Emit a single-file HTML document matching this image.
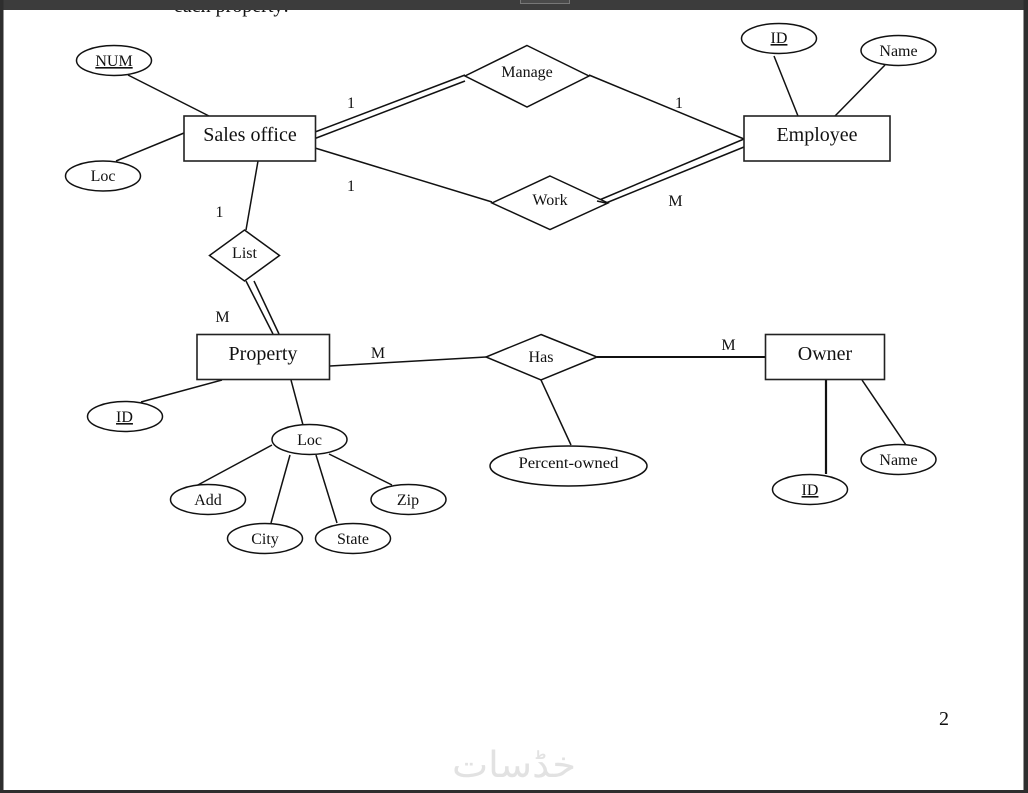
<!DOCTYPE html>
<html><head><meta charset="utf-8">
<style>
html,body{margin:0;padding:0;background:#fff;width:1028px;height:793px;overflow:hidden}
svg{display:block}
text{font-family:"Liberation Serif",serif;fill:#111;text-anchor:middle}
.s{stroke:#111;stroke-width:1.5;fill:none}
.e{stroke:#111;stroke-width:1.5;fill:#fff}
.b{stroke:#222;stroke-width:1.6;fill:#fff}
</style></head><body>
<svg width="1028" height="793" viewBox="0 0 1028 793" xmlns="http://www.w3.org/2000/svg">
<rect width="1028" height="793" fill="#fff"/>
<text x="231.500" y="12" font-size="20">each property:</text>
<rect x="0" y="0" width="1028" height="10" fill="#3c3c3c"/>
<rect x="0" y="0" width="3.5" height="793" fill="#2e2e2e"/>
<rect x="1023.500" y="0" width="4.500" height="793" fill="#2e2e2e"/>
<rect x="0" y="790" width="1028" height="3" fill="#2e2e2e"/>
<rect x="520.500" y="-3" width="49" height="6.500" fill="#4a4a4a" stroke="#777"/>

<g class="s">
<path d="M128 75L209 116"/>
<path d="M116 161L184 133"/>
<path d="M258 161L246 230"/>
<path d="M315 132L465 75"/>
<path d="M315 138.500L465 81"/>
<path d="M315 148L492 202"/>
<path d="M589 75L744 139"/>
<path d="M597 201L744 139"/>
<path d="M606 203L744 147"/>
<path d="M246 281L273 334"/>
<path d="M254 281L279 334"/>
<path d="M330 366L486 357"/>
<path d="M222 380L141 402"/>
<path d="M291 380L303 425"/>
<path d="M272 445L196 486"/>
<path d="M290 455L271 523"/>
<path d="M316 455L337 523"/>
<path d="M329 454L392 485"/>
<path d="M541 380L571 445"/>
<path d="M774 56L798 116"/>
<path d="M885 65L835 116"/>
<path d="M862 380L906 445"/>
</g>
<path d="M597 357H765" stroke="#111" stroke-width="2" fill="none"/>
<path d="M826 380V474" stroke="#111" stroke-width="2.200" fill="none"/>

<g class="e">
<ellipse cx="114" cy="60.500" rx="37.500" ry="15"/>
<ellipse cx="103" cy="176" rx="37.500" ry="15"/>
<ellipse cx="779" cy="38.500" rx="37.500" ry="15"/>
<ellipse cx="898.500" cy="50.500" rx="37.500" ry="15"/>
<ellipse cx="125" cy="416.500" rx="37.500" ry="15"/>
<ellipse cx="309.500" cy="439.500" rx="37.500" ry="15"/>
<ellipse cx="208" cy="499.500" rx="37.500" ry="15"/>
<ellipse cx="408.500" cy="499.500" rx="37.500" ry="15"/>
<ellipse cx="265" cy="538.500" rx="37.500" ry="15"/>
<ellipse cx="353" cy="538.500" rx="37.500" ry="15"/>
<ellipse cx="568.500" cy="466" rx="78.500" ry="20"/>
<ellipse cx="810" cy="489.500" rx="37.500" ry="15"/>
<ellipse cx="898.500" cy="459.500" rx="37.500" ry="15"/>
<polygon points="527,45.500 589,76 527,107 465,76" fill="#fff"/>
<polygon points="550,176 608,203 550,229.500 492,203" fill="#fff"/>
<polygon points="244.500,230 279.500,255.500 244.500,281 209.500,255.500"/>
<polygon points="541,334.500 597,357 541,380 486,357"/>
</g>
<path d="M597 201L606 203" class="s"/>
<g class="b">
<rect x="184" y="116" width="131.500" height="45"/>
<rect x="744" y="116" width="146" height="45"/>
<rect x="197" y="334.500" width="132.500" height="45"/>
<rect x="765.500" y="334.500" width="119" height="45"/>
</g>

<g font-size="20">
<text x="250" y="141">Sales office</text>
<text x="817" y="141">Employee</text>
<text x="263" y="360">Property</text>
<text x="825" y="360">Owner</text>
</g>
<g font-size="16">
<text x="114" y="66" text-decoration="underline">NUM</text>
<text x="103" y="181">Loc</text>
<text x="779" y="43" text-decoration="underline">ID</text>
<text x="898.500" y="56">Name</text>
<text x="527" y="77">Manage</text>
<text x="550" y="205">Work</text>
<text x="244.500" y="258">List</text>
<text x="541" y="362">Has</text>
<text x="124.500" y="422" text-decoration="underline">ID</text>
<text x="309.500" y="445">Loc</text>
<text x="208" y="505">Add</text>
<text x="408" y="505">Zip</text>
<text x="265" y="544">City</text>
<text x="353" y="544">State</text>
<text x="568.500" y="468" textLength="100" lengthAdjust="spacingAndGlyphs">Percent-owned</text>
<text x="810" y="495" text-decoration="underline">ID</text>
<text x="898.500" y="465">Name</text>
<text x="351" y="108">1</text>
<text x="679" y="108">1</text>
<text x="351" y="191">1</text>
<text x="675.500" y="206">M</text>
<text x="219.500" y="217">1</text>
<text x="222.500" y="322">M</text>
<text x="378" y="358">M</text>
<text x="728.500" y="350">M</text>
</g>
<text x="944" y="725" font-size="20">2</text>
<text x="514" y="777" font-size="36" textLength="124" lengthAdjust="spacingAndGlyphs" style="font-family:'DejaVu Sans',sans-serif;fill:#e2e2e2">خڈسات</text>
</svg>
</body></html>
